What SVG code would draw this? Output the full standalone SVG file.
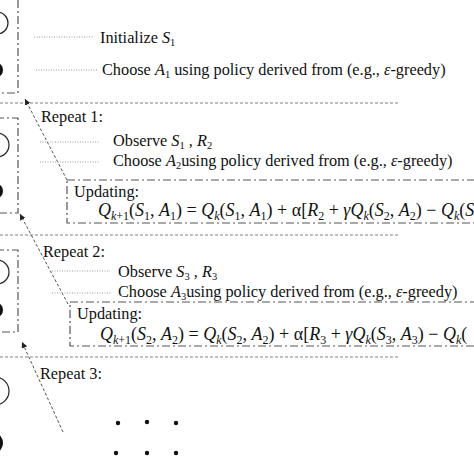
<svg xmlns="http://www.w3.org/2000/svg" width="474" height="474" viewBox="0 0 474 474">
<style>
text{font-family:"Liberation Serif","Times New Roman",serif;fill:#111;font-size:16.3px}
.f{font-size:18px}
.i{font-style:italic}
.s{font-size:10.5px}
.fs{font-size:12px}
.lead{stroke:#9a9a9a;stroke-width:1;stroke-dasharray:1 1.5;fill:none}
.sep{stroke:#808080;stroke-width:1;stroke-dasharray:3 2;fill:none}
.dd{stroke:#555;stroke-width:1.2;stroke-dasharray:8 3 2 3;fill:none}
.diag{stroke:#555;stroke-width:1;stroke-dasharray:3 2;fill:none}
.ring{stroke:#222;stroke-width:1.2;fill:none}
.blob{fill:#111}
</style>
<defs>
<marker id="ah" markerWidth="7" markerHeight="7" refX="6" refY="3" orient="auto" markerUnits="userSpaceOnUse">
<path d="M0,0 L6,3 L0,6 z" fill="#222"/>
</marker>
</defs>
<rect width="474" height="474" fill="#fff"/>

<g id="state-box-0">
<rect class="dd" x="-20" y="-10" width="38" height="103"/>
<circle class="ring" cx="-3" cy="23" r="11"/>
<ellipse class="blob" cx="-3" cy="70" rx="6" ry="7"/>
</g>
<g id="state-box-1">
<rect class="dd" x="-20" y="118" width="38" height="95"/>
<circle class="ring" cx="-3" cy="145" r="12"/>
<ellipse class="blob" cx="-3" cy="191" rx="6" ry="7"/>
</g>
<g id="state-box-2">
<rect class="dd" x="-20" y="250" width="38" height="82"/>
<circle class="ring" cx="-3" cy="272" r="12"/>
<ellipse class="blob" cx="-3" cy="310" rx="6" ry="7"/>
</g>
<g id="state-3">
<circle class="ring" cx="-5" cy="391" r="14"/>
<ellipse class="blob" cx="-4" cy="443" rx="7" ry="9"/>
</g>

<g id="separators">
<line class="sep" x1="0" y1="103" x2="398" y2="103"/>
<line class="sep" x1="0" y1="235" x2="398" y2="235"/>
<line class="sep" x1="0" y1="357" x2="398" y2="357"/>
</g>

<g id="connectors">
<line class="diag" x1="67" y1="180" x2="25" y2="99" marker-end="url(#ah)"/>
<line class="diag" x1="68" y1="304" x2="20" y2="214" marker-end="url(#ah)"/>
<line class="diag" x1="63" y1="432" x2="22" y2="342" marker-end="url(#ah)"/>
<line class="lead" x1="34" y1="37" x2="93" y2="37"/>
<line class="lead" x1="36" y1="70" x2="97" y2="70"/>
<line class="lead" x1="40" y1="142" x2="100" y2="142"/>
<line class="lead" x1="40" y1="162" x2="100" y2="162"/>
<line class="lead" x1="52" y1="271" x2="110" y2="271"/>
<line class="lead" x1="52" y1="293" x2="112" y2="293"/>
</g>

<g id="init">
<text x="100" y="43">Initialize <tspan class="i">S</tspan><tspan class="s" dy="3">1</tspan></text>
<text x="102" y="75">Choose <tspan class="i">A</tspan><tspan class="s" dy="3">1</tspan><tspan dy="-3"> using policy derived from (e.g., </tspan><tspan class="i">ε</tspan>-greedy)</text>
</g>

<g id="repeat-1">
<text x="41" y="122">Repeat 1:</text>
<text x="113" y="146">Observe <tspan class="i">S</tspan><tspan class="s" dy="3">1</tspan><tspan dy="-3"> , </tspan><tspan class="i">R</tspan><tspan class="s" dy="3">2</tspan></text>
<text x="113" y="166">Choose <tspan class="i">A</tspan><tspan class="s" dy="3">2</tspan><tspan dy="-3">using policy derived from (e.g., </tspan><tspan class="i">ε</tspan>-greedy)</text>
</g>
<g id="update-1">
<rect class="dd" x="67" y="180" width="420" height="43"/>
<text x="74" y="197">Updating:</text>
<text class="f" x="98" y="216"><tspan class="i">Q</tspan><tspan class="fs" dy="4"><tspan class="i">k</tspan>+1</tspan><tspan dy="-4">(</tspan><tspan class="i">S</tspan><tspan class="fs" dy="4">1</tspan><tspan dy="-4">, </tspan><tspan class="i">A</tspan><tspan class="fs" dy="4">1</tspan><tspan dy="-4">) = </tspan><tspan class="i">Q</tspan><tspan class="fs i" dy="4">k</tspan><tspan dy="-4">(</tspan><tspan class="i">S</tspan><tspan class="fs" dy="4">1</tspan><tspan dy="-4">, </tspan><tspan class="i">A</tspan><tspan class="fs" dy="4">1</tspan><tspan dy="-4">) + α[</tspan><tspan class="i">R</tspan><tspan class="fs" dy="4">2</tspan><tspan dy="-4"> + </tspan><tspan class="i">γQ</tspan><tspan class="fs i" dy="4">k</tspan><tspan dy="-4">(</tspan><tspan class="i">S</tspan><tspan class="fs" dy="4">2</tspan><tspan dy="-4">, </tspan><tspan class="i">A</tspan><tspan class="fs" dy="4">2</tspan><tspan dy="-4">) − </tspan><tspan class="i">Q</tspan><tspan class="fs i" dy="4">k</tspan><tspan dy="-4">(</tspan><tspan class="i">S</tspan></text>
</g>

<g id="repeat-2">
<text x="43" y="257">Repeat 2:</text>
<text x="118" y="277">Observe <tspan class="i">S</tspan><tspan class="s" dy="3">3</tspan><tspan dy="-3"> , </tspan><tspan class="i">R</tspan><tspan class="s" dy="3">3</tspan></text>
<text x="118" y="297">Choose <tspan class="i">A</tspan><tspan class="s" dy="3">3</tspan><tspan dy="-3">using policy derived from (e.g., </tspan><tspan class="i">ε</tspan>-greedy)</text>
</g>
<g id="update-2">
<rect class="dd" x="70" y="302" width="420" height="44"/>
<text x="77" y="319">Updating:</text>
<text class="f" x="100" y="340"><tspan class="i">Q</tspan><tspan class="fs" dy="4"><tspan class="i">k</tspan>+1</tspan><tspan dy="-4">(</tspan><tspan class="i">S</tspan><tspan class="fs" dy="4">2</tspan><tspan dy="-4">, </tspan><tspan class="i">A</tspan><tspan class="fs" dy="4">2</tspan><tspan dy="-4">) = </tspan><tspan class="i">Q</tspan><tspan class="fs i" dy="4">k</tspan><tspan dy="-4">(</tspan><tspan class="i">S</tspan><tspan class="fs" dy="4">2</tspan><tspan dy="-4">, </tspan><tspan class="i">A</tspan><tspan class="fs" dy="4">2</tspan><tspan dy="-4">) + α[</tspan><tspan class="i">R</tspan><tspan class="fs" dy="4">3</tspan><tspan dy="-4"> + </tspan><tspan class="i">γQ</tspan><tspan class="fs i" dy="4">k</tspan><tspan dy="-4">(</tspan><tspan class="i">S</tspan><tspan class="fs" dy="4">3</tspan><tspan dy="-4">, </tspan><tspan class="i">A</tspan><tspan class="fs" dy="4">3</tspan><tspan dy="-4">) − </tspan><tspan class="i">Q</tspan><tspan class="fs i" dy="4">k</tspan><tspan dy="-4">(</tspan></text>
</g>

<g id="repeat-3">
<text x="40" y="379">Repeat 3:</text>
<circle class="blob" cx="118" cy="423" r="2.2"/>
<circle class="blob" cx="147" cy="422" r="2.2"/>
<circle class="blob" cx="176" cy="423" r="2.2"/>
<circle class="blob" cx="116" cy="453" r="2.2"/>
<circle class="blob" cx="147" cy="453" r="2.2"/>
<circle class="blob" cx="176" cy="453" r="2.2"/>
</g>
</svg>
